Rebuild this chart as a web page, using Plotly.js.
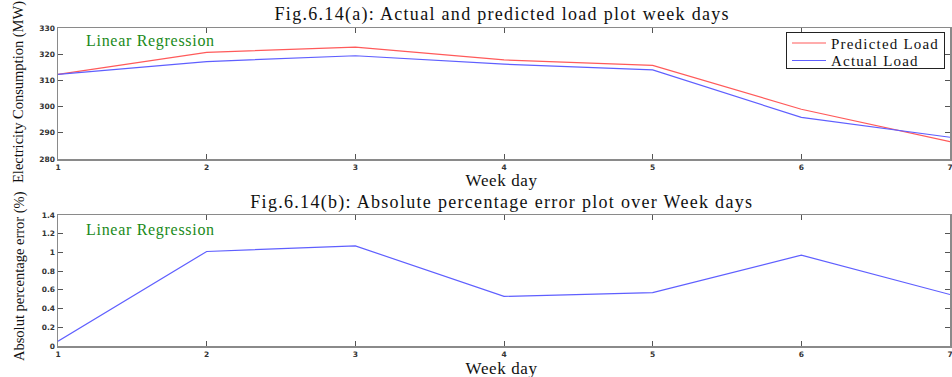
<!DOCTYPE html>
<html><head><meta charset="utf-8">
<script src="https://cdn.plot.ly/plotly-3.0.1.min.js"></script>
<style>body{margin:0;background:#fff}#c{width:952px;height:377px}</style>
</head><body><div id="c"></div>
<script>
const days = [1, 2, 3, 4, 5, 6, 7];
const predictedLoad = [312.3, 320.7, 322.7, 317.8, 315.7, 299.0, 286.6];
const actualLoad = [312.3, 317.2, 319.4, 316.2, 314.0, 295.9, 288.3];
const absPctError = [0.05, 1.01, 1.07, 0.53, 0.57, 0.97, 0.55];
const titleA = 'Fig.6.14(a): Actual and predicted load plot week days';
const titleB = 'Fig.6.14(b): Absolute percentage error plot over Week days';

const W = 952, H = 377;
const px = v => v / W, py = v => 1 - v / H;
const serif = 'Liberation Serif, Times New Roman, serif';

const axisBase = {
  showline: true, linecolor: '#8a8a8a', linewidth: 1.5, mirror: 'ticks',
  ticks: 'inside', ticklen: 5, tickcolor: '#555', tickwidth: 1,
  showgrid: false, zeroline: false, ticklabeloverflow: 'allow',
  tickfont: {family: 'DejaVu Sans, sans-serif', size: 7.5, color: '#333', weight: 'bold'}
};

const traces = [
  {x: days, y: predictedLoad, type: 'scatter', mode: 'lines', name: 'Predicted Load',
   line: {color: 'rgb(255,90,90)', width: 1.2}, xaxis: 'x', yaxis: 'y'},
  {x: days, y: actualLoad, type: 'scatter', mode: 'lines', name: 'Actual Load',
   line: {color: 'rgb(95,95,255)', width: 1.2}, xaxis: 'x', yaxis: 'y'},
  {x: days, y: absPctError, type: 'scatter', mode: 'lines', showlegend: false,
   line: {color: 'rgb(95,95,255)', width: 1.2}, xaxis: 'x2', yaxis: 'y2'}
];

function ann(text, x, y, size, opts) {
  return Object.assign({text: text, x: px(x), y: py(y), xref: 'paper', yref: 'paper',
    showarrow: false, xanchor: 'center', yanchor: 'middle',
    font: {family: serif, size: size, color: '#111'}}, opts || {});
}

const layout = {
  width: W, height: H, margin: {l: 0, r: 0, t: 0, b: 0},
  paper_bgcolor: '#fff', plot_bgcolor: '#fff', showlegend: true,
  xaxis: Object.assign({}, axisBase, {domain: [px(58), px(950)], range: [1, 7], tickvals: days, anchor: 'y'}),
  yaxis: Object.assign({}, axisBase, {domain: [py(159), py(28)], range: [280, 330], dtick: 10, anchor: 'x'}),
  xaxis2: Object.assign({}, axisBase, {domain: [px(58), px(950)], range: [1, 7], tickvals: days, anchor: 'y2'}),
  yaxis2: Object.assign({}, axisBase, {domain: [py(346), py(215)], range: [0, 1.4], dtick: 0.2, anchor: 'x2'}),
  legend: {x: px(944), y: py(32), xanchor: 'right', yanchor: 'top',
    bgcolor: '#fff', bordercolor: '#222', borderwidth: 1,
    font: {family: serif, size: 15, color: '#111'}, tracegroupgap: 0, itemwidth: 34},
  annotations: [
    ann(titleA, 502, 14, 18),
    ann(titleB, 502, 202, 18),
    ann('Week day', 502, 181, 17),
    ann('Week day', 502, 368, 17),
    ann('Electricity Consumption (MW)', 19, 92, 14.5, {textangle: -90}),
    ann('Absolut percentage error (%)', 19, 276, 14.5, {textangle: -90}),
    ann('Linear Regression', 90, 41, 16, {xanchor: 'left', font: {family: serif, size: 16, color: '#1a8a1a'}}),
    ann('Linear Regression', 90, 230, 16, {xanchor: 'left', font: {family: serif, size: 16, color: '#1a8a1a'}})
  ]
};

Plotly.newPlot('c', traces, layout, {displayModeBar: false, staticPlot: true}).then(function () {
  const spacing = {0: 1.3, 1: 1.3, 2: 0.6, 3: 0.6, 6: 0.7, 7: 0.7};
  document.querySelectorAll('.annotation').forEach(function (g) {
    const i = +g.getAttribute('data-index');
    if (spacing[i] !== undefined) {
      const t = g.querySelector('text');
      if (t) t.style.letterSpacing = spacing[i] + 'px';
    }
  });
  // tighten and widen the legend to match the reference's compact, stretched box
  const leg = document.querySelector('.legend');
  if (leg) {
    const texts = leg.querySelectorAll('text.legendtext');
    texts.forEach(function (t) { t.style.letterSpacing = '1.2px'; });
    const sb = leg.querySelector('.scrollbox');
    if (sb) sb.removeAttribute('clip-path');
    const rows = leg.querySelectorAll('g.traces');
    rows.forEach(function (g, i) {
      const m = /translate\(([-\d.]+)[ ,]+([-\d.]+)\)/.exec(g.getAttribute('transform') || '');
      const x0 = m ? m[1] : 0;
      g.setAttribute('transform', 'translate(' + x0 + ',' + (11 + i * 17.5) + ')');
    });
    const bg = leg.querySelector('rect.bg');
    if (bg) {
      const bgBox = bg.getBoundingClientRect();
      let maxRight = 0;
      texts.forEach(function (t) { maxRight = Math.max(maxRight, t.getBoundingClientRect().right); });
      const newW = Math.ceil(maxRight - bgBox.left + 5);
      bg.setAttribute('width', newW);
      bg.setAttribute('height', 36);
      const m = /translate\(([-\d.]+)[ ,]+([-\d.]+)\)/.exec(leg.getAttribute('transform') || '');
      if (m) leg.setAttribute('transform', 'translate(' + (944 - newW) + ',' + m[2] + ')');
    }
  }
});
</script></body></html>
